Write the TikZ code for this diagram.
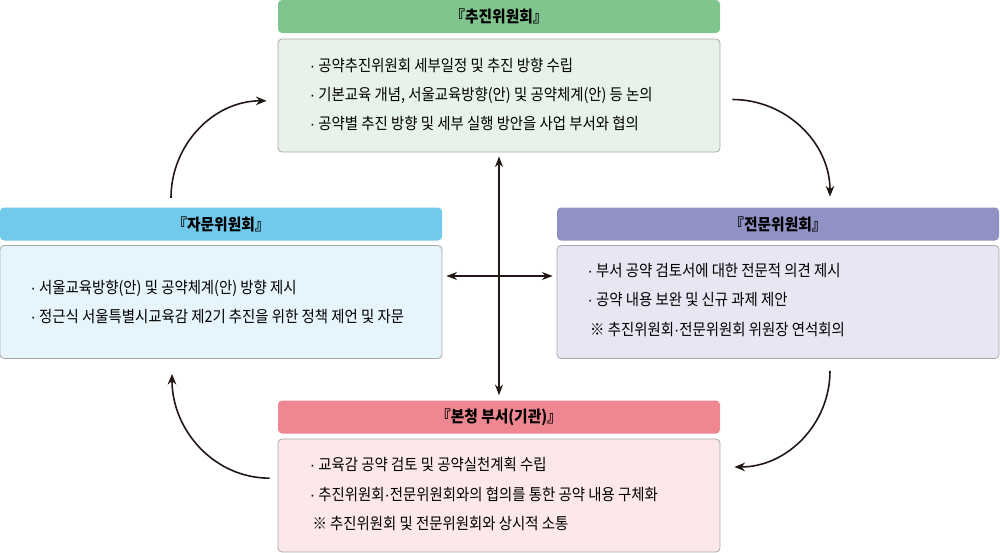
\documentclass[tikz,border=0pt]{standalone}
\usepackage{fontspec}
\setmainfont{Noto Sans CJK KR}[FakeStretch=0.92]
\newfontfamily\bodyfont{Noto Sans CJK KR}[FakeStretch=0.9]
\newfontfamily\dotfont{Liberation Sans}
\newcommand{\md}{{\dotfont ·}}
\usetikzlibrary{arrows.meta}
\definecolor{tophead}{HTML}{80C58E}
\definecolor{topbg}{HTML}{E7F2E8}
\definecolor{lefthead}{HTML}{71C9EC}
\definecolor{leftbg}{HTML}{E6F4FB}
\definecolor{righthead}{HTML}{9091C4}
\definecolor{rightbg}{HTML}{E7E6F2}
\definecolor{bothead}{HTML}{EE8792}
\definecolor{botbg}{HTML}{FCE8EA}
\definecolor{boxline}{HTML}{A8A8A8}
\definecolor{arrowcol}{HTML}{231815}
\tikzset{
    head/.style={rounded corners=3pt, minimum width=331.5pt, minimum height=24.75pt,
        inner sep=0pt, font=\fontsize{12}{14}\selectfont\bfseries},
    body/.style={draw=boxline, line width=0.6pt, rounded corners=3pt,
        minimum width=331.5pt, minimum height=84.75pt},
    txt/.style={anchor=west, inner sep=0pt, align=left,
        font=\bodyfont\fontsize{12}{22}\selectfont},
    arr/.style={draw=arrowcol, line width=1.2pt, -{Stealth[length=8pt,width=6.5pt]}},
    dbl/.style={draw=arrowcol, line width=1pt,
        {Stealth[length=8pt,width=6pt]}-{Stealth[length=8pt,width=6pt]}}
}
\begin{document}
\begin{tikzpicture}[x=0.75pt,y=-0.75pt]
    \useasboundingbox (0,0) rectangle (1000,553);
    % 추진위원회
    \node[head, fill=tophead] (tophd) at (499,16.5) {『추진위원회』};
    \node[body, fill=topbg] (topbody) at (499,95.5) {};
    \node[txt] (toptxt) at ([xshift=24pt,yshift=0.75pt]topbody.west)
        {\md\ 공약추진위원회 세부일정 및 추진 방향 수립\\
         \md\ 기본교육 개념, 서울교육방향(안) 및 공약체계(안) 등 논의\\
         \md\ 공약별 추진 방향 및 세부 실행 방안을 사업 부서와 협의};
    % 자문위원회
    \node[head, fill=lefthead] (lefthd) at (221,224) {『자문위원회』};
    \node[body, fill=leftbg] (leftbody) at (221,302) {};
    \node[txt] (lefttxt) at ([xshift=23pt]leftbody.west)
        {\md\ 서울교육방향(안) 및 공약체계(안) 방향 제시\\
         \md\ 정근식 서울특별시교육감 제2기 추진을 위한 정책 제언 및 자문};
    % 전문위원회
    \node[head, fill=righthead] (righthd) at (778,224) {『전문위원회』};
    \node[body, fill=rightbg] (rightbody) at (778,302) {};
    \node[txt] (righttxt) at ([xshift=23pt,yshift=1.5pt]rightbody.west)
        {\md\ 부서 공약 검토서에 대한 전문적 의견 제시\\
         \md\ 공약 내용 보완 및 신규 과제 제안\\
         \hspace{2pt}※ 추진위원회\md 전문위원회 위원장 연석회의};
    % 본청 부서
    \node[head, fill=bothead] (bothd) at (499,417) {『본청 부서(기관)』};
    \node[body, fill=botbg] (botbody) at (499,495.5) {};
    \node[txt] (bottxt) at ([xshift=24pt,yshift=1.1pt]botbody.west)
        {\md\ 교육감 공약 검토 및 공약실천계획 수립\\
         \md\ 추진위원회\md 전문위원회와의 협의를 통한 공약 내용 구체화\\
         \hspace{2pt}※ 추진위원회 및 전문위원회와 상시적 소통};
    % cycle
    \draw[arr] ([xshift=9pt,yshift=-3pt]topbody.east) to[out=0,in=90]
        ([xshift=39pt,yshift=8pt]righthd.north);
    \draw[arr] ([xshift=39pt,yshift=-9pt]rightbody.south) to[out=-90,in=0]
        ([xshift=10.5pt,yshift=21.4pt]botbody.east);
    \draw[arr] ([xshift=-6pt,yshift=13pt]botbody.west) to[out=180,in=-90]
        ([xshift=-36.75pt,yshift=-11.25pt]leftbody.south);
    \draw[arr] ([xshift=-37.5pt,yshift=7pt]lefthd.north) to[out=90,in=180]
        ([xshift=-8.25pt,yshift=-4pt]topbody.west);
    % cross
    \coordinate (cross) at (499,276);
    \draw[dbl] ([yshift=-3pt]topbody.south) -- ([yshift=3.75pt]bothd.north);
    \draw[dbl, shorten <=3pt, shorten >=3pt] (leftbody.east |- cross) -- (rightbody.west |- cross);
\end{tikzpicture}
\end{document}
